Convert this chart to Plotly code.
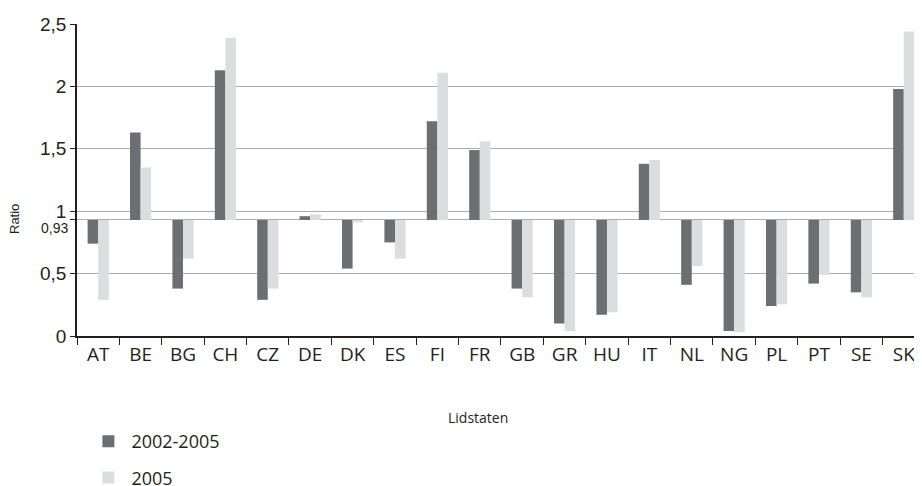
import numpy as np
import plotly.graph_objects as go

countries = ["AT", "BE", "BG", "CH", "CZ", "DE", "DK", "ES", "FI", "FR",
             "GB", "GR", "HU", "IT", "NL", "NG", "PL", "PT", "SE", "SK"]
ratio_2002_2005 = [0.74, 1.63, 0.38, 2.13, 0.29, 0.96, 0.54, 0.75, 1.72, 1.49,
                   0.38, 0.10, 0.17, 1.38, 0.41, 0.04, 0.24, 0.42, 0.35, 1.98]
ratio_2005 = [0.29, 1.35, 0.62, 2.39, 0.38, 0.975, 0.91, 0.62, 2.11, 1.56,
              0.31, 0.04, 0.19, 1.41, 0.56, 0.03, 0.255, 0.49, 0.31, 2.44]
baseline = 0.93
y_tickvals = [0, 0.5, 0.93, 1, 1.5, 2, 2.5]
y_ticktext = ["0", "0,5", "", "1", "1,5", "2", "2,5"]
baseline_label = "0,93"

dark = "#6d6e71"
light = "#dcdddf"
ink = "#231f20"

W, H = 914, 478
L, T, B = 69, 16, 150
PW, PH = W - L, H - T - B

fig = go.Figure()
for name, vals, col in [("2002-2005", ratio_2002_2005, dark), ("2005", ratio_2005, light)]:
    v = np.array(vals)
    fig.add_trace(go.Bar(
        x=countries, y=v - baseline, base=baseline, name=name,
        marker=dict(color=col, line=dict(width=0)), legendgroup=name,
    ))

fig.update_layout(
    width=W, height=H,
    margin=dict(l=L, r=0, t=T, b=B, autoexpand=False),
    paper_bgcolor="white", plot_bgcolor="white",
    barmode="group", bargap=0.5, bargroupgap=0,
    font=dict(family="Open Sans, sans-serif", color=ink),
    showlegend=True,
    legend=dict(
        xref="container", yref="container", x=77.4 / W, y=(H - 415) / H,
        xanchor="left", yanchor="top", orientation="v",
        font=dict(size=18, family="Open Sans, sans-serif", color=ink),
        tracegroupgap=10, itemwidth=36, bgcolor="rgba(0,0,0,0)",
    ),
    xaxis=dict(
        range=[-0.5, 19.43], showline=True, linecolor=ink, linewidth=1.5,
        ticks="outside", tickson="boundaries", ticklen=7, tickcolor=ink, tickwidth=1.2,
        tickangle=0, automargin=False,
        tickfont=dict(size=19, family="Open Sans, sans-serif", color=ink),
        showgrid=False, zeroline=False, fixedrange=True,
    ),
    yaxis=dict(
        range=[0, 2.5], showline=True, linecolor=ink, linewidth=1.5,
        tickvals=y_tickvals, ticktext=y_ticktext, automargin=False,
        ticks="outside", ticklen=5, tickcolor=ink, tickwidth=1.2,
        tickfont=dict(size=19, family="Liberation Sans Narrow, Arial Narrow, sans-serif", color=ink),
        showgrid=True, gridcolor="#ababab", gridwidth=1.3, zeroline=False,
    ),
    annotations=[
        dict(text=baseline_label, xref="paper", yref="y", x=0, y=baseline,
             xanchor="right", yanchor="middle", xshift=-7, yshift=-8, showarrow=False,
             font=dict(size=14, family="Liberation Sans Narrow, Arial Narrow, sans-serif", color=ink)),
        dict(text="Lidstaten", xref="paper", yref="paper", x=(470 - L) / PW, y=-(409 - (T + PH)) / PH,
             xanchor="center", yanchor="middle", showarrow=False,
             font=dict(size=14, family="Open Sans, sans-serif", color=ink)),
        dict(text="Ratio", xref="paper", yref="paper", x=-(L - 6) / PW, y=((T + PH) - 211) / PH,
             xanchor="center", yanchor="middle", showarrow=False, textangle=-90,
             font=dict(size=13, family="Liberation Sans, Arial, sans-serif", color=ink)),
    ],
)

fig.write_html("out.html")
